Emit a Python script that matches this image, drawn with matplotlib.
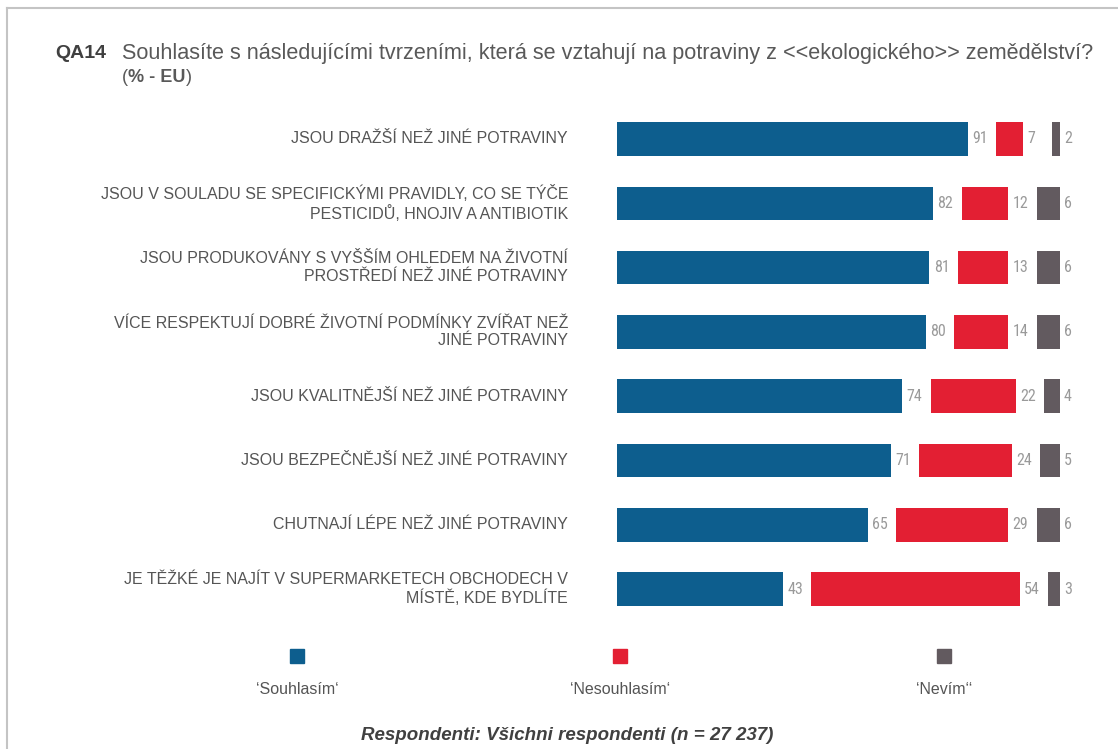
import matplotlib
matplotlib.use("Agg")
import matplotlib.pyplot as plt
from matplotlib.patches import Rectangle
from matplotlib.lines import Line2D

categories = [
    "JSOU DRAŽŠÍ NEŽ JINÉ POTRAVINY",
    "JSOU V SOULADU SE SPECIFICKÝMI PRAVIDLY, CO SE TÝČE\nPESTICIDŮ, HNOJIV A ANTIBIOTIK",
    "JSOU PRODUKOVÁNY S VYŠŠÍM OHLEDEM NA ŽIVOTNÍ\nPROSTŘEDÍ NEŽ JINÉ POTRAVINY",
    "VÍCE RESPEKTUJÍ DOBRÉ ŽIVOTNÍ PODMÍNKY ZVÍŘAT NEŽ\nJINÉ POTRAVINY",
    "JSOU KVALITNĚJŠÍ NEŽ JINÉ POTRAVINY",
    "JSOU BEZPEČNĚJŠÍ NEŽ JINÉ POTRAVINY",
    "CHUTNAJÍ LÉPE NEŽ JINÉ POTRAVINY",
    "JE TĚŽKÉ JE NAJÍT V SUPERMARKETECH OBCHODECH V\nMÍSTĚ, KDE BYDLÍTE",
]
souhlasim = [91, 82, 81, 80, 74, 71, 65, 43]
nesouhlasim = [7, 12, 13, 14, 22, 24, 29, 54]
nevim = [2, 6, 6, 6, 4, 5, 6, 3]
series_names = ["‘Souhlasím‘", "‘Nesouhlasím‘", "‘Nevím‘‘"]
title_code = "QA14"
title_text = "Souhlasíte s následujícími tvrzeními, která se vztahují na potraviny z <<ekologického>> zemědělství?"
footer = "Respondenti: Všichni respondenti (n = 27 237)"

colors = ["#0D5E8E", "#E31F33", "#625A5F"]
W, H = 1118, 749
fig = plt.figure(figsize=(W / 100, H / 100), dpi=100)
fig.patch.set_facecolor("white")

# frame lines (top and left)
fig.add_artist(Line2D([7 / W, 1], [1 - 8 / H, 1 - 8 / H], color="#c4c4c4", lw=1.5))
fig.add_artist(Line2D([7 / W, 7 / W], [0, 1 - 8 / H], color="#c4c4c4", lw=1.5))

px_per_unit = 3.857
x0 = 617
xmax = 120
row_h = 64.3
top_c = 139
n = len(categories)
ax_top = top_c - row_h / 2
ax_h = row_h * n
ax = fig.add_axes([x0 / W, 1 - (ax_top + ax_h) / H, xmax * px_per_unit / W, ax_h / H])
ax.set_xlim(0, xmax)
ax.set_ylim(n - 0.5, -0.5)
ax.axis("off")

gap = 28.5 / px_per_unit
bh = 0.52
label_font = ["Liberation Sans Narrow", "Roboto Condensed", "Roboto"]
txt_font = "Liberation Sans"
for i in range(n):
    left = 0
    for s, vals in enumerate([souhlasim, nesouhlasim, nevim]):
        v = vals[i]
        ax.barh(i, v, left=left, height=bh, color=colors[s], edgecolor="none")
        ax.text(left + v + 1.1, i, str(v), ha="left", va="center",
                fontsize=11.5, color="#9a9a9a", family=label_font)
        left += v + gap
    ax.text(-12.7, i, categories[i], ha="right", va="center", multialignment="right",
            fontsize=11.5, color="#555555", family=txt_font, linespacing=1.2)

# legend
legend_x = [297, 620, 944]
for k, name in enumerate(series_names):
    fig.add_artist(Rectangle(((legend_x[k] - 7) / W, 1 - (656 + 7) / H), 14 / W, 14 / H,
                             color=colors[k], transform=fig.transFigure))
    fig.text(legend_x[k] / W, 1 - 690 / H, name, ha="center", va="center",
             fontsize=11.5, color="#555555", family=txt_font)

# title
fig.text(55 / W, 1 - 53 / H, title_code, ha="left", va="center", fontsize=14,
         fontweight="bold", color="#404040", family=txt_font)
fig.text(122 / W, 1 - 53 / H, title_text, ha="left", va="center", fontsize=15.6,
         color="#595959", family=txt_font)

renderer = fig.canvas.get_renderer()
xpos = 122
for part, weight in [("(", "normal"), ("% - EU", "bold"), (")", "normal")]:
    t = fig.text(xpos / W, 1 - 78 / H, part, ha="left", va="center", fontsize=13,
                 fontweight=weight, color="#595959", family=txt_font)
    xpos += t.get_window_extent(renderer).width

fig.text(567 / W, 1 - 735 / H, footer, ha="center", va="center", fontsize=13.5,
         fontweight="bold", fontstyle="italic", color="#404040", family=txt_font)

fig.savefig("out.png", dpi=100, facecolor="white")
